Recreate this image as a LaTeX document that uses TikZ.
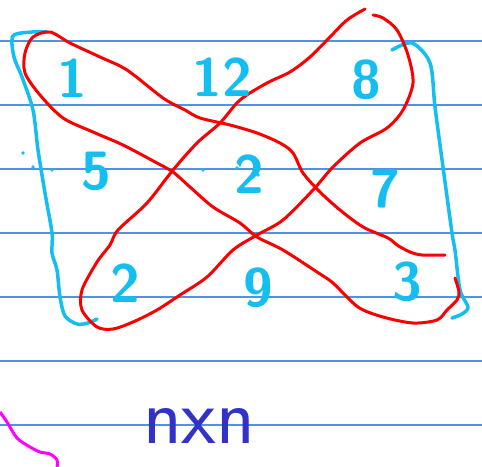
\documentclass[tikz,border=0pt]{standalone}
\usepackage{tikz}
\usetikzlibrary{calc}
\usepackage{xcolor}

\definecolor{ruleblue}{RGB}{80,145,235}
\definecolor{pencyan}{RGB}{20,190,240}
\definecolor{penred}{RGB}{250,0,0}
\definecolor{pendark}{RGB}{50,50,200}
\definecolor{penpink}{RGB}{255,0,255}

\tikzset{
  ruled/.style={ruleblue,line width=1.2pt},
  cyanpen/.style={pencyan,line width=3.5pt,line cap=round,line join=round},
  redpen/.style={penred,line width=3pt,line cap=round,line join=round},
  digit/.style={pencyan,font=\sffamily\bfseries\fontsize{54}{54}\selectfont,inner sep=0pt}
}

\begin{document}
\begin{tikzpicture}[x=1pt,y=-1pt]
		
		\useasboundingbox[fill=white] (0,0) rectangle (482,466);
		
		% Paper lines
		\foreach \y in {41,105,169,233,297,361,425} {
			\draw[ruled] (0,\y) -- (482,\y);
		}
		
		% Left and right brackets
		\draw[cyanpen] plot[smooth,tension=0.5] coordinates {(47,32) (32,32) (13,36) (14,57) (22,77) (33,110) (38,150) (45,193) (52,233) (52,253) (57,270) (60,297) (65,316) (77,324) (88,323) (97,319)};
		\draw[cyanpen] plot[smooth,tension=0.5] coordinates {(392,50) (412,43) (430,63) (435,107) (443,167) (452,233) (455,250) (460,290) (468,307) (462,314) (452,318)};
		
		% Loop from top left to bottom right
		\draw[redpen] plot[smooth,tension=0.5] coordinates {(445,255) (422,255) (410,252) (397,245) (388,238) (363,227) (340,210) (320,192) (303,173) (293,153) (280,143) (257,133) (230,125) (200,118) (185,110) (163,98) (127,70) (100,57) (70,43) (50,32) (33,37) (25,53) (25,73) (40,95) (63,118) (93,132) (123,145) (157,163) (173,172) (190,187) (213,207) (240,223) (257,237) (283,250) (317,272) (333,283) (358,307) (383,317) (413,323) (437,320) (447,310) (457,300) (459,292) (455,278)};
		
		% Loop from top right to bottom left
		\draw[redpen] plot[smooth,tension=0.5] coordinates {(365,9) (347,20) (330,37) (310,57) (290,72) (267,83) (240,100) (220,123) (197,143) (173,170) (147,203) (118,230) (110,245) (97,262) (82,290) (82,310) (97,327) (113,329) (133,322) (157,310) (180,295) (207,277) (233,250) (257,235) (283,220) (313,190) (333,167) (360,143) (387,128) (403,110) (413,83) (408,55) (397,30) (383,18) (373,15)};
		
		% Numbers
		\foreach \x/\y/\t/\n in {72/78/1/a, 222/77/12/b, 366/80/8/c, 96/171/5/d, 249/174/2/e, 385/189/7/f, 125/283/2/g, 258/288/9/h, 407/282/3/i} {
			\node[digit] (num\n) at (\x,\y) {\t};
		}
		
		% Stray dots
		\foreach \x/\y in {23/153, 33/167, 52/170, 203/170, 237/168, 258/175} {
			\fill[pencyan] (\x,\y) circle (1.8);
		}
		
		\node[pendark,font=\sffamily\fontsize{80}{80}\selectfont,inner sep=0pt] (nxn) at (199,426) {nxn};
		
		\draw[penpink,line width=3pt] plot[smooth,tension=0.5] coordinates {(0,412) (7,422) (17,438) (30,447) (40,452) (50,454) (57,460) (57,468)};
		
	\end{tikzpicture}
\end{document}
